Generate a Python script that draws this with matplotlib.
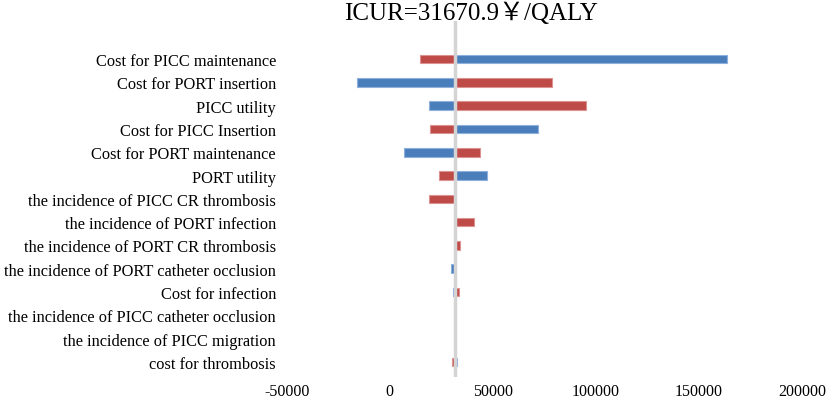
import matplotlib as mpl
mpl.use('Agg')
import matplotlib.pyplot as plt
import numpy as np

base = 31670.9

labels = ["Cost for PICC maintenance", "Cost for PORT insertion", "PICC utility",
          "Cost for PICC Insertion", "Cost for PORT maintenance", "PORT utility",
          "the incidence of PICC CR thrombosis", "the incidence of PORT infection",
          "the incidence of PORT CR thrombosis", "the incidence of PORT catheter occlusion",
          "Cost for infection", "the incidence of PICC catheter occlusion",
          "the incidence of PICC migration", "cost for thrombosis"]

blue_vals = [163700, -15700, 19100, 72000, 6800, 47400, 31670.9,
             31670.9, 31670.9, 29800, 30700, 31670.9, 31670.9, 32500]
red_vals = [14700, 78600, 95000, 19600, 43800, 23900, 19100,
            40900, 34000, 31670.9, 33500, 31670.9, 31670.9, 30100]

xticks = [-50000, 0, 50000, 100000, 150000, 200000]

plt.rcParams['font.family'] = ['Liberation Serif', 'Noto Sans CJK SC']

fig = plt.figure(figsize=(8.28, 4.02), dpi=100)
ax = fig.add_axes([0.3461, 0.06, 0.6225, 0.885])

y = np.arange(len(labels))
blue = np.array(blue_vals) - base
red = np.array(red_vals) - base

ax.barh(y, blue, left=base, height=0.37, color='#4a7ebb', edgecolor='#8db0dc', linewidth=0.8)
ax.barh(y, red, left=base, height=0.37, color='#be4b48', edgecolor='#dc9290', linewidth=0.8)
ax.axvline(base, color='#d4d4d4', linewidth=2.5, zorder=3)

ax.set_xlim(-50000, 200000)
ax.set_ylim(len(labels) - 1 + 0.64, -1.63)
ax.set_xticks(xticks)
ax.set_xticklabels([str(t) for t in xticks], fontsize=11.5)
ax.set_yticks(y)
ax.set_yticklabels(labels, fontsize=11.8)
ax.tick_params(axis='both', length=0)
ax.tick_params(axis='y', pad=7.6)
ax.tick_params(axis='x', pad=4.5)
for s in ax.spines.values():
    s.set_visible(False)

fig.text(0.569, 0.966, "ICUR=31670.9￥/QALY", ha='center', va='center', fontsize=18)

plt.savefig("out.png", dpi=100)
